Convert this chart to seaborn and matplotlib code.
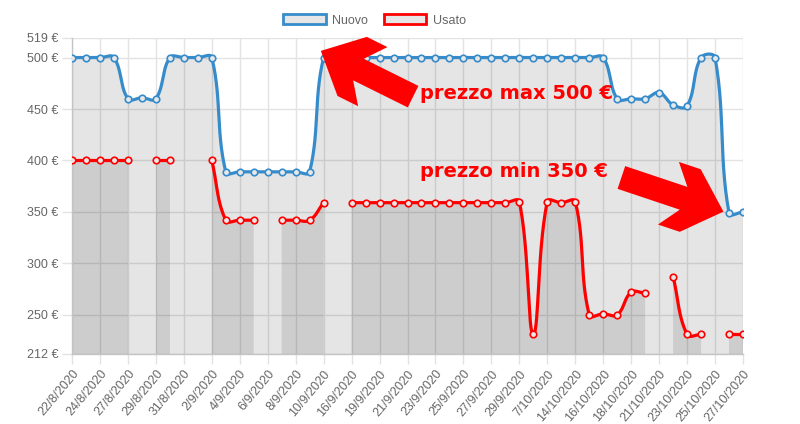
import numpy as np
import pandas as pd
import seaborn as sns
import matplotlib.pyplot as plt
from matplotlib.patches import Patch, Polygon

# -------------------------------------------------
# Data
# -------------------------------------------------
dates = [
    "22/8/2020", "23/8/2020", "24/8/2020", "26/8/2020", "27/8/2020",
    "28/8/2020", "29/8/2020", "30/8/2020", "31/8/2020", "1/9/2020",
    "2/9/2020", "3/9/2020", "4/9/2020", "5/9/2020", "6/9/2020",
    "7/9/2020", "8/9/2020", "9/9/2020", "10/9/2020", "14/9/2020",
    "16/9/2020", "18/9/2020", "19/9/2020", "20/9/2020", "21/9/2020",
    "22/9/2020", "23/9/2020", "24/9/2020", "25/9/2020", "26/9/2020",
    "27/9/2020", "28/9/2020", "29/9/2020", "4/10/2020", "7/10/2020",
    "11/10/2020", "14/10/2020", "15/10/2020", "16/10/2020", "17/10/2020",
    "18/10/2020", "20/10/2020", "21/10/2020", "22/10/2020", "23/10/2020",
    "24/10/2020", "25/10/2020", "26/10/2020", "27/10/2020",
]

nuovo = [
    500, 500, 500, 500, 460, 461, 460, 500, 500, 500,
    500, 389, 389, 389, 389, 389, 389, 389, 500, 500,
    500, 500, 500, 500, 500, 500, 500, 500, 500, 500,
    500, 500, 500, 500, 500, 500, 500, 500, 500, 460,
    460, 460, 466, 454, 453, 500, 500, 349, 350,
]

nan = np.nan
usato = [
    400, 400, 400, 400, 400, nan, 400, 400, nan, nan,
    400, 342, 342, 342, nan, 342, 342, 342, 359, nan,
    359, 359, 359, 359, 359, 359, 359, 359, 359, 359,
    359, 359, 360, 231, 360, 359, 360, 250, 251, 250,
    272, 271, nan, 287, 231, 231, nan, 231, 231,
]

y_ticks = [212, 250, 300, 350, 400, 450, 500, 519]
y_min, y_max = 212, 519

BLUE = "#368ccb"
RED = "#ff0000"
FILL = (0, 0, 0, 0.1)
GRID = "#e3e3e3"
TEXT = "#666666"

# pixel scale of the original chart (used for the spline shape only)
PX_X = 13.98
PX_Y = 1.029
TENSION = 0.4


def segments(values):
    """split a series into runs of consecutive non-missing points"""
    runs, cur = [], []
    for i, v in enumerate(values):
        if np.isnan(v):
            if cur:
                runs.append(cur)
            cur = []
        else:
            cur.append(i)
    if cur:
        runs.append(cur)
    return runs


def spline(idx, vals, n=30):
    """bezier curve through points, same control point rule as chart.js"""
    P = np.column_stack([np.asarray(idx, float) * PX_X, np.asarray(vals, float) * PX_Y])
    m = len(P)
    if m == 1:
        return P[:, 0] / PX_X, P[:, 1] / PX_Y
    cp_prev = np.zeros_like(P)
    cp_next = np.zeros_like(P)
    for i in range(m):
        prev = P[i - 1] if i > 0 else P[i]
        nxt = P[i + 1] if i < m - 1 else P[i]
        d01 = np.hypot(*(P[i] - prev))
        d12 = np.hypot(*(nxt - P[i]))
        tot = d01 + d12
        s01 = d01 / tot if tot else 0
        s12 = d12 / tot if tot else 0
        cp_prev[i] = P[i] - TENSION * s01 * (nxt - prev)
        cp_next[i] = P[i] + TENSION * s12 * (nxt - prev)
    for cp in (cp_prev, cp_next):
        cp[:, 0] = np.clip(cp[:, 0], 0, 48 * PX_X)
        cp[:, 1] = np.clip(cp[:, 1], y_min * PX_Y, y_max * PX_Y)
    t = np.linspace(0, 1, n)[:, None]
    pts = [P[:1]]
    for i in range(m - 1):
        b = ((1 - t) ** 3 * P[i] + 3 * (1 - t) ** 2 * t * cp_next[i]
             + 3 * (1 - t) * t ** 2 * cp_prev[i + 1] + t ** 3 * P[i + 1])
        pts.append(b[1:])
    pts = np.vstack(pts)
    return pts[:, 0] / PX_X, pts[:, 1] / PX_Y


def block_arrow(ax, tail, tip, color):
    """fat chevron arrow, shape measured in pixels, anchored in data coords"""
    a = ax.transData.transform(tail)
    b = ax.transData.transform(tip)
    d = b - a
    length = np.hypot(*d)
    u = d / length
    p = np.array([-u[1], u[0]])
    # (distance back from tip, half width) in pixels
    shape = [(0, 0), (35, 33), (58, 33), (42, 12), (length, 12),
             (length, -12), (42, -12), (58, -33), (35, -33)]
    verts = [b - back * u + w * p for back, w in shape]
    verts = ax.transData.inverted().transform(np.array(verts))
    ax.add_patch(Polygon(verts, closed=True, facecolor=color, edgecolor="none",
                         zorder=6, clip_on=False))


sns.set_style("white")
plt.rcParams["font.family"] = ["Liberation Sans", "DejaVu Sans"]

fig = plt.figure(figsize=(8, 4.24), dpi=100)
ax = fig.add_axes([72 / 800, 70 / 424, 671 / 800, 316 / 424])

x_all = np.arange(len(dates))

for values, color in [(usato, RED), (nuovo, BLUE)]:
    values = np.asarray(values, float)
    for run in segments(values):
        xs, ys = spline(run, values[run])
        poly_x = np.concatenate([xs, [xs[-1], xs[0]]])
        poly_y = np.concatenate([ys, [y_min, y_min]])
        ax.fill(poly_x, poly_y, color=FILL, linewidth=0, zorder=1)
        sns.lineplot(x=xs, y=ys, ax=ax, color=color, linewidth=2.3,
                     sort=False, estimator=None, zorder=3)
    df = pd.DataFrame({"x": x_all, "y": values}).dropna()
    sns.scatterplot(data=df, x="x", y="y", ax=ax, s=22, marker="o",
                    facecolor="#e8e8e8", edgecolor=color, linewidth=1.2,
                    zorder=4)

# -------------------------------------------------
# Axes
# -------------------------------------------------
ax.set_xlim(0, len(dates) - 1)
ax.set_ylim(y_min, y_max)
ax.set_xlabel("")
ax.set_ylabel("")

ax.set_yticks(y_ticks)
ax.set_yticklabels([f"{v} €" for v in y_ticks])
ax.set_xticks(x_all[::2])
ax.set_xticklabels(dates[::2], rotation=50, ha="right", rotation_mode="anchor")

ax.tick_params(axis="both", colors=GRID, labelcolor=TEXT, labelsize=9,
               length=7, width=1, pad=3, left=True, bottom=True)
ax.grid(True, color=GRID, linewidth=1)
ax.set_axisbelow(True)
for side in ["top", "right"]:
    ax.spines[side].set_visible(False)
for side in ["left", "bottom"]:
    ax.spines[side].set_color("#c4c4c4")
    ax.spines[side].set_linewidth(1)

# -------------------------------------------------
# Legend
# -------------------------------------------------
handles = [
    Patch(facecolor="#e6e6e6", edgecolor=BLUE, linewidth=2, label="Nuovo"),
    Patch(facecolor="#e6e6e6", edgecolor=RED, linewidth=2, label="Usato"),
]
fig.legend(handles=handles, loc="center", bbox_to_anchor=(0.468, 0.952),
           ncol=2, frameon=False, fontsize=9, labelcolor=TEXT,
           handlelength=3.4, handleheight=0.9, handletextpad=0.5,
           columnspacing=1.3)

# -------------------------------------------------
# Annotations
# -------------------------------------------------
block_arrow(ax, (24.4, 462), (17.8, 506.5), RED)
block_arrow(ax, (39.3, 383.5), (46.6, 350.3), RED)

ax.text(24.9, 465, "prezzo max 500 €", color=RED, fontsize=14,
        fontweight="bold", family="DejaVu Sans", va="center", ha="left", zorder=7)
ax.text(24.9, 389, "prezzo min 350 €", color=RED, fontsize=14,
        fontweight="bold", family="DejaVu Sans", va="center", ha="left", zorder=7)

fig.savefig("out.png", dpi=100)
